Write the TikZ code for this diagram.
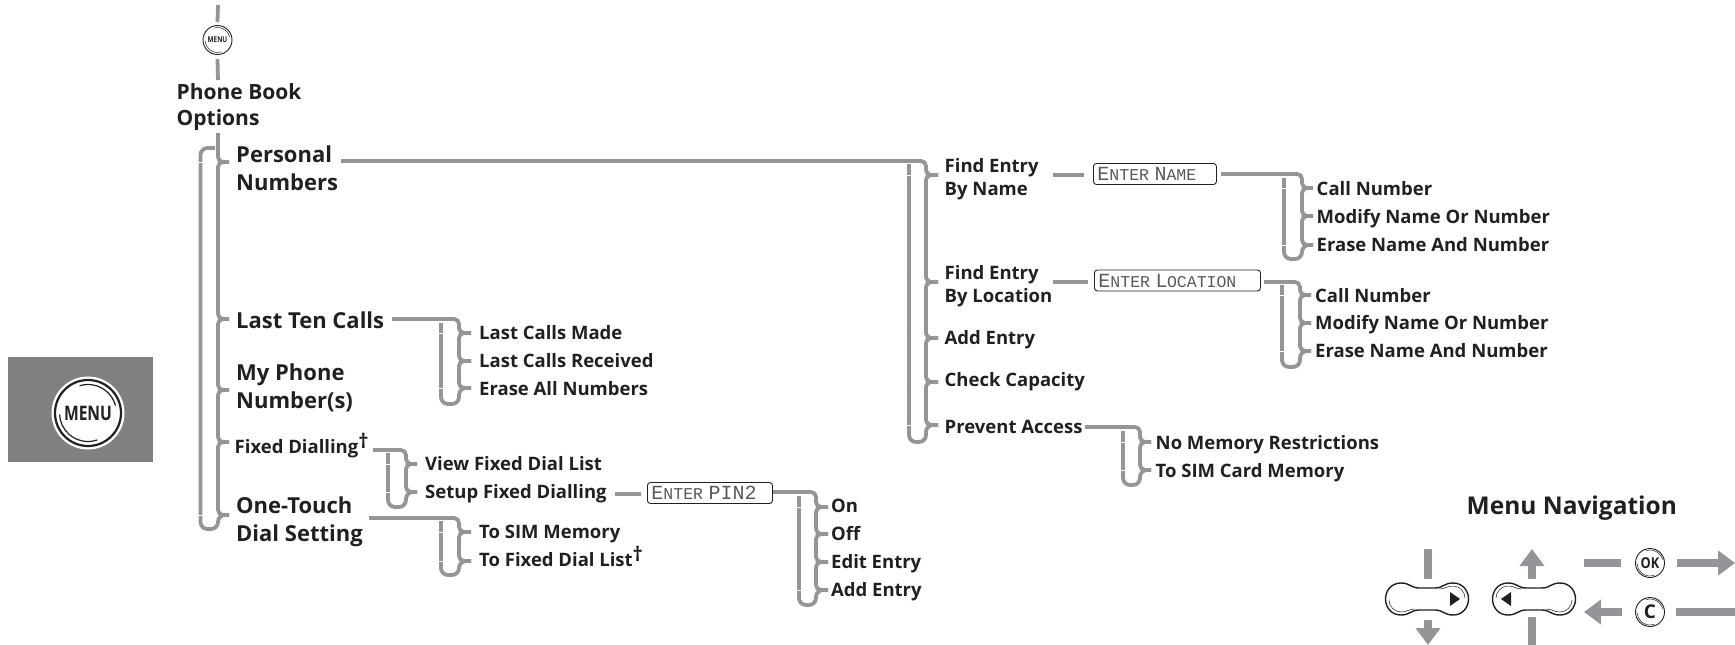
\documentclass[tikz,border=0pt]{standalone}
\usepackage{fontspec}
\setmainfont{Open Sans}
\newfontfamily\lcdfont{Liberation Mono}
\usetikzlibrary{arrows.meta}
\definecolor{treegray}{HTML}{939598}
\definecolor{ink}{HTML}{231F20}
\definecolor{panelgray}{HTML}{808080}
% one stretch of a brace, from tick to tick
\newcommand{\treepart}[3]{\draw[tree] (#1) -- (#2 |- #1) -- (#2 |- #3) -- (#3);}
% the part that returns from the last tick round the back of the brace
\newcommand{\treeback}[5]{%
    \draw[tree, rounded corners=7pt] (#2) -- (#3 |- #2) -- (#3 |- #4) -- (#4) -- (#5);
    \draw[slit] ([xshift=-3pt]#4 |- #1) -- ([xshift=3pt]#4 |- #1);
    \draw[slit] ([xshift=-3pt]#4 |- #2) -- ([xshift=3pt]#4 |- #2);}
% the two thin arcs inside a round key
\newcommand{\keyarcs}[3]{%
    \draw[ink, line width=#3] ([shift={(107:#2)}]#1.center) arc[start angle=107, end angle=15, radius=#2];
    \draw[ink, line width=#3] ([shift={(289:#2)}]#1.center) arc[start angle=289, end angle=183, radius=#2];}
\newcommand{\lcdcap}[1]{{\fontsize{20}{20}\selectfont #1}}
\newcommand{\tallDag}{\raisebox{5pt}{\fontsize{20}{20}\selectfont\dag}}
\begin{document}
\begin{tikzpicture}[
    x=1pt, y=-1pt,
    tree/.style={line width=3.8pt, draw=treegray, rounded corners=5pt},
    slit/.style={line width=0.6pt, draw=white},
    navbar/.style={line width=8pt, draw=treegray},
    navarrow/.style={line width=8pt, draw=treegray, -{Triangle[length=17pt, width=24pt, fill=treegray]}},
    title/.style={anchor=base west, inner sep=0pt, align=left, text=ink, font=\bfseries\fontsize{21}{26}\selectfont},
    bigitem/.style={anchor=base west, inner sep=0pt, align=left, text=ink, font=\bfseries\fontsize{22}{28}\selectfont},
    item/.style={anchor=base west, inner sep=0pt, align=left, text=ink, font=\bfseries\fontsize{18.5}{23}\selectfont},
    lcdbox/.style={anchor=west, rectangle, rounded corners=3pt, draw=ink, line width=0.9pt, inner sep=0pt, minimum height=21pt, align=left, text=ink!75, font=\lcdfont\fontsize{16.5}{16.5}\selectfont},
    roundkey/.style={circle, draw=ink, fill=white, inner sep=0pt, text=ink},
    navpad/.pic={
        \draw[draw=ink, line width=1.4pt, fill=white] (-26,-16) .. controls (-17,-16) and (-16,-11) .. (-8,-11) -- (8,-11)
            .. controls (16,-11) and (17,-16) .. (26,-16) .. controls (36,-16) and (41.5,-8) .. (41.5,0)
            .. controls (41.5,8) and (36,16) .. (26,16) .. controls (17,16) and (16,11) .. (8,11) -- (-8,11)
            .. controls (-16,11) and (-17,16) .. (-26,16) .. controls (-36,16) and (-41.5,8) .. (-41.5,0)
            .. controls (-41.5,-8) and (-36,-16) .. (-26,-16) -- cycle;
        \draw[draw=ink, line width=0.5pt] (12,-10) .. controls (18,-10) and (20,-13) .. (26,-13) .. controls (33,-13) and (38,-7) .. (38,-1);
        \draw[draw=ink, line width=0.5pt] (-12,10) .. controls (-18,10) and (-20,13) .. (-26,13) .. controls (-33,13) and (-38,7) .. (-38,1);
    }
]
    \useasboundingbox (0,0) rectangle (1735,645);

    % Menu key panel
    \node[rectangle, fill=panelgray, minimum width=145pt, minimum height=105pt, inner sep=0pt] (panel) at (80.5,409.5) {};
    \node[circle, fill=white, minimum size=73pt, inner sep=0pt] (panelring) at (88,413) {};
    \node[roundkey, line width=2.2pt, minimum size=66pt, font=\bfseries\fontsize{20}{20}\selectfont] (panelkey) at (88,413) {\scalebox{0.78}[1]{MENU}};
    \keyarcs{panelkey}{28.5pt}{1.2pt}

    % Top of the tree
    \coordinate (topend) at (218,5);
    \coordinate (phonein) at (218,80);
    \coordinate (stemtop) at (218,133);
    \node[roundkey, line width=0.9pt, minimum size=29pt, font=\bfseries\fontsize{8}{8}\selectfont] (menukey) at (217.5,40) {\scalebox{0.8}[1]{MENU}};
    \keyarcs{menukey}{12.5pt}{0.5pt}
    \draw[tree] (topend) -- ([yshift=3pt]menukey.north);
    \draw[tree] ([yshift=-4pt]menukey.south) -- (phonein);
    \node[title] (phonebook) at (176.5,125) {Phone Book\\Options};

    % Main level
    \node[bigitem] (personal) at (236,190) {Personal\\Numbers};
    \node[bigitem] (lastten) at (236,328) {Last Ten Calls};
    \node[bigitem] (myphone) at (236,408) {My Phone\\Number(s)};
    \node[item] (fixed) at (234.5,453) {Fixed Dialling\tallDag};
    \node[bigitem] (onetouch) at (236,541) {One-Touch\\Dial Setting};
    \coordinate (tickpersonal) at (229,162);
    \coordinate (ticklastten) at (229,319);
    \coordinate (tickmyphone) at (229,390);
    \coordinate (tickfixed) at (229,442);
    \coordinate (tickonetouch) at (229,515);
    \coordinate (mainback) at (200.5,529);
    \coordinate (maintop) at (215,148);
    \draw[tree] (stemtop) -- (stemtop |- tickpersonal) -- (tickpersonal);
    \treepart{tickpersonal}{stemtop}{ticklastten}
    \treepart{ticklastten}{stemtop}{tickmyphone}
    \treepart{tickmyphone}{stemtop}{tickfixed}
    \treepart{tickfixed}{stemtop}{tickonetouch}
    \draw[tree, rounded corners=7pt] (tickonetouch) -- (stemtop |- tickonetouch) -- (stemtop |- mainback) -- (mainback) -- (mainback |- maintop) -- (maintop);
    \draw[slit] ([xshift=-3pt]mainback |- tickpersonal) -- ([xshift=3pt]mainback |- tickpersonal);
    \draw[slit] ([xshift=-3pt]mainback |- tickonetouch) -- ([xshift=3pt]mainback |- tickonetouch);

    % Last Ten Calls
    \node[item] (made) at (479,339) {Last Calls Made};
    \node[item] (received) at (479,367) {Last Calls Received};
    \node[item] (eraseall) at (479,395) {Erase All Numbers};
    \coordinate (feedcalls) at (392,319);
    \coordinate (spinecalls) at (459,319);
    \coordinate (tickmade) at (471,333);
    \coordinate (tickreceived) at (471,361);
    \coordinate (tickeraseall) at (471,388);
    \coordinate (backcalls) at (441,404);
    \coordinate (topcalls) at (441,323);
    \draw[tree] (feedcalls) -- (spinecalls) -- (spinecalls |- tickmade) -- (tickmade);
    \treepart{tickmade}{spinecalls}{tickreceived}
    \treepart{tickreceived}{spinecalls}{tickeraseall}
    \treeback{tickmade}{tickeraseall}{spinecalls}{backcalls}{topcalls}

    % Fixed Dialling
    \node[item] (viewlist) at (425,470) {View Fixed Dial List};
    \node[item] (setup) at (425,498) {Setup Fixed Dialling};
    \coordinate (feedfixed) at (373,450);
    \coordinate (spinefixed) at (406,450);
    \coordinate (tickview) at (417,464);
    \coordinate (ticksetup) at (417,492);
    \coordinate (backfixed) at (388,507);
    \coordinate (topfixed) at (388,453);
    \draw[tree] (feedfixed) -- (spinefixed) -- (spinefixed |- tickview) -- (tickview);
    \treepart{tickview}{spinefixed}{ticksetup}
    \treeback{tickview}{ticksetup}{spinefixed}{backfixed}{topfixed}

    % Enter PIN2
    \node[lcdbox, text width=125pt] (pinbox) at (647,493) {\hspace{4pt}\lcdcap{E}NTER \lcdcap{PIN2}};
    \coordinate (dashpin) at (615,494);
    \coordinate (dashpinend) at (641,494);
    \draw[tree] (dashpin) -- (dashpinend);
    \node[item] (on) at (831,512) {On};
    \node[item] (off) at (831,540) {Off};
    \node[item] (editentry) at (831,568) {Edit Entry};
    \node[item] (addpin) at (831,596) {Add Entry};
    \coordinate (feedpin) at (773,492);
    \coordinate (spinepin) at (816,492);
    \coordinate (tickon) at (828,507);
    \coordinate (tickoff) at (828,534);
    \coordinate (tickedit) at (828,562);
    \coordinate (tickadd) at (828,590);
    \coordinate (backpin) at (799,605);
    \coordinate (toppin) at (799,496);
    \draw[tree] (feedpin) -- (spinepin) -- (spinepin |- tickon) -- (tickon);
    \treepart{tickon}{spinepin}{tickoff}
    \treepart{tickoff}{spinepin}{tickedit}
    \treepart{tickedit}{spinepin}{tickadd}
    \treeback{tickon}{tickadd}{spinepin}{backpin}{toppin}

    % One-Touch Dial Setting
    \node[item] (tosim) at (479,538) {To SIM Memory};
    \node[item] (tolist) at (479,566) {To Fixed Dial List\tallDag};
    \coordinate (feedtouch) at (369,518);
    \coordinate (spinetouch) at (459,518);
    \coordinate (ticktosim) at (471,532);
    \coordinate (ticktolist) at (471,561);
    \coordinate (backtouch) at (441,575);
    \coordinate (toptouch) at (441,521);
    \draw[tree] (feedtouch) -- (spinetouch) -- (spinetouch |- ticktosim) -- (ticktosim);
    \treepart{ticktosim}{spinetouch}{ticktolist}
    \treeback{ticktosim}{ticktolist}{spinetouch}{backtouch}{toptouch}

    % Personal Numbers
    \node[item] (byname) at (944.5,195) {Find Entry\\By Name};
    \node[item] (bylocation) at (944.5,302) {Find Entry\\By Location};
    \node[item] (addentry) at (944.5,344) {Add Entry};
    \node[item] (capacity) at (944.5,386) {Check Capacity};
    \node[item] (prevent) at (944.5,433) {Prevent Access};
    \coordinate (feedpersonal) at (341,161);
    \coordinate (spinepersonal) at (926,161);
    \coordinate (tickbyname) at (938,175);
    \coordinate (tickbylocation) at (938,282);
    \coordinate (tickaddentry) at (938,338);
    \coordinate (tickcapacity) at (938,382);
    \coordinate (tickprevent) at (938,425);
    \coordinate (backpersonal) at (909,442);
    \coordinate (toppersonal) at (909,164);
    \draw[tree] (feedpersonal) -- (spinepersonal) -- (spinepersonal |- tickbyname) -- (tickbyname);
    \treepart{tickbyname}{spinepersonal}{tickbylocation}
    \treepart{tickbylocation}{spinepersonal}{tickaddentry}
    \treepart{tickaddentry}{spinepersonal}{tickcapacity}
    \treepart{tickcapacity}{spinepersonal}{tickprevent}
    \treeback{tickbyname}{tickprevent}{spinepersonal}{backpersonal}{toppersonal}

    % Find Entry By Name
    \node[lcdbox, text width=123pt] (namebox) at (1093,174) {\hspace{4pt}\lcdcap{E}NTER \lcdcap{N}AME};
    \coordinate (dashname) at (1053,175);
    \coordinate (dashnameend) at (1084,175);
    \draw[tree] (dashname) -- (dashnameend);
    \node[item] (callname) at (1316.5,195) {Call Number};
    \node[item] (modifyname) at (1316.5,223) {Modify Name Or Number};
    \node[item] (erasename) at (1316.5,251) {Erase Name And Number};
    \coordinate (feedname) at (1221,174);
    \coordinate (spinename) at (1302,174);
    \coordinate (tickcallname) at (1313,188);
    \coordinate (tickmodifyname) at (1313,216);
    \coordinate (tickerasename) at (1313,245);
    \coordinate (backname) at (1284,259);
    \coordinate (topname) at (1284,178);
    \draw[tree] (feedname) -- (spinename) -- (spinename |- tickcallname) -- (tickcallname);
    \treepart{tickcallname}{spinename}{tickmodifyname}
    \treepart{tickmodifyname}{spinename}{tickerasename}
    \treeback{tickcallname}{tickerasename}{spinename}{backname}{topname}

    % Find Entry By Location
    \node[lcdbox, text width=166pt] (locationbox) at (1094,280.5) {\hspace{4pt}\lcdcap{E}NTER \lcdcap{L}\kern-0.5pt OCATION};
    \coordinate (dashlocation) at (1053,282);
    \coordinate (dashlocationend) at (1088,282);
    \draw[tree] (dashlocation) -- (dashlocationend);
    \node[item] (calllocation) at (1315,302) {Call Number};
    \node[item] (modifylocation) at (1315,329) {Modify Name Or Number};
    \node[item] (eraselocation) at (1315,357) {Erase Name And Number};
    \coordinate (feedlocation) at (1264,282);
    \coordinate (spinelocation) at (1300,282);
    \coordinate (tickcalllocation) at (1311,295);
    \coordinate (tickmodifylocation) at (1311,323);
    \coordinate (tickeraselocation) at (1311,351);
    \coordinate (backlocation) at (1282,367);
    \coordinate (toplocation) at (1282,285);
    \draw[tree] (feedlocation) -- (spinelocation) -- (spinelocation |- tickcalllocation) -- (tickcalllocation);
    \treepart{tickcalllocation}{spinelocation}{tickmodifylocation}
    \treepart{tickmodifylocation}{spinelocation}{tickeraselocation}
    \treeback{tickcalllocation}{tickeraselocation}{spinelocation}{backlocation}{toplocation}

    % Prevent Access
    \node[item] (nomemory) at (1155.5,449) {No Memory Restrictions};
    \node[item] (tocard) at (1155.5,477) {To SIM Card Memory};
    \coordinate (feedprevent) at (1085,427);
    \coordinate (spineprevent) at (1140,427);
    \coordinate (ticknomemory) at (1151,442);
    \coordinate (ticktocard) at (1151,470);
    \coordinate (backprevent) at (1123,485);
    \coordinate (topprevent) at (1123,431);
    \draw[tree] (feedprevent) -- (spineprevent) -- (spineprevent |- ticknomemory) -- (ticknomemory);
    \treepart{ticknomemory}{spineprevent}{ticktocard}
    \treeback{ticknomemory}{ticktocard}{spineprevent}{backprevent}{topprevent}

    % Menu Navigation
    \node[anchor=base west, inner sep=0pt, text=ink, font=\bfseries\fontsize{24.5}{30}\selectfont] (navtitle) at (1466.5,514) {Menu Navigation};
    \pic (padright) at (1427,599) {navpad};
    \pic[xscale=-1] (padleft) at (1534,599) {navpad};
    \fill[ink] (1450,592) -- (1460,599) -- (1450,606) -- cycle;
    \fill[ink] (1511,592) -- (1501,599) -- (1511,606) -- cycle;
    \node[roundkey, line width=0.9pt, minimum size=29pt, font=\bfseries\fontsize{15}{15}\selectfont] (okkey) at (1650,563) {\scalebox{0.85}[1]{OK}};
    \node[roundkey, line width=0.9pt, minimum size=29pt, font=\bfseries\fontsize{19}{19}\selectfont] (ckey) at (1650,612) {C};
    \keyarcs{okkey}{13pt}{0.5pt}
    \keyarcs{ckey}{13pt}{0.5pt}
    \coordinate (downa) at (1428,549);
    \coordinate (downb) at (1428,579);
    \coordinate (downc) at (1428,620);
    \coordinate (downd) at (1428,645);
    \coordinate (upa) at (1532,579);
    \coordinate (upb) at (1532,549);
    \coordinate (upc) at (1532,617);
    \coordinate (upd) at (1532,645);
    \coordinate (oka) at (1584,563);
    \coordinate (okb) at (1621,563);
    \coordinate (okc) at (1677,563);
    \coordinate (okd) at (1735,563);
    \coordinate (ca) at (1622,612);
    \coordinate (cb) at (1584,612);
    \coordinate (cc) at (1676,612);
    \coordinate (cd) at (1735,612);
    \draw[navbar] (downa) -- (downb);
    \draw[navarrow] (downc) -- (downd);
    \draw[navarrow] (upa) -- (upb);
    \draw[navbar] (upc) -- (upd);
    \draw[navbar] (oka) -- (okb);
    \draw[navarrow] (okc) -- (okd);
    \draw[navarrow] (ca) -- (cb);
    \draw[navbar] (cc) -- (cd);
\end{tikzpicture}
\end{document}
